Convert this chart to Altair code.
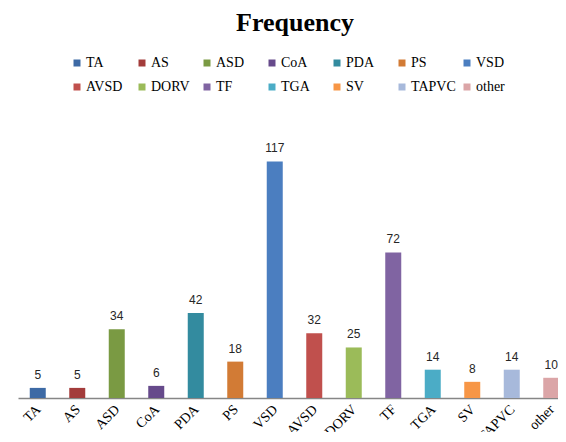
import altair as alt
import pandas as pd

categories = ["TA", "AS", "ASD", "CoA", "PDA", "PS", "VSD", "AVSD", "DORV", "TF", "TGA", "SV", "TAPVC", "other"]
values = [5, 5, 34, 6, 42, 18, 117, 32, 25, 72, 14, 8, 14, 10]
colors = ["#3d6aa5", "#a33c3b", "#7a9a43", "#664a8b", "#338b9f", "#d27b35", "#4b7ec0",
          "#c0504d", "#9bbb59", "#8064a2", "#4bacc6", "#f79646", "#a7b9db", "#dba5a7"]

SERIF = "'Liberation Serif', 'Times New Roman', serif"

df = pd.DataFrame({"cat": categories, "val": values})

xscale = alt.Scale(range=[0, 553], paddingInner=0.595, paddingOuter=0.2975)
x = alt.X("cat:N", sort=categories, title=None, scale=xscale,
          axis=alt.Axis(labelAngle=-45, labelAlign="right", labelBaseline="top",
                        labelFont=SERIF, labelFontSize=14, labelColor="#000000",
                        labelPadding=4, labelOffset=-4, ticks=False, domainColor="#868686",
                        domainWidth=1.5, labelOverlap=False))
y = alt.Y("val:Q", title=None, scale=alt.Scale(domain=[0, 140], nice=False), axis=None)

bars = alt.Chart(df).mark_bar(size=16).encode(
    x=x, y=y,
    color=alt.Color("cat:N", sort=categories,
                    scale=alt.Scale(domain=categories, range=colors),
                    legend=alt.Legend(title=None, orient="none", legendX=52, legendY=-59,
                                      direction="horizontal",
                                      columns=7, gridAlign="all", symbolType="square",
                                      symbolSize=49, symbolStrokeWidth=0, labelFont=SERIF,
                                      labelFontSize=14, labelColor="#000000", labelOffset=2,
                                      columnPadding=4, rowPadding=10, symbolOffset=0, padding=0))
)
labels = alt.Chart(df).mark_text(baseline="bottom", dy=-6, font="Liberation Sans", fontSize=12,
                                 color="#262626").encode(
    x=alt.X("cat:N", sort=categories, scale=xscale), y="val:Q", text="val:Q")

chart = (bars + labels).properties(
    width=540, height=283,
    title=alt.Title("Frequency", font=SERIF, fontSize=26, fontWeight="bold",
                    color="#000000", anchor="middle", offset=20, dx=7),
    autosize=alt.AutoSizeParams(type="none"),
    padding={"left": 10, "top": 107, "right": 0, "bottom": 34},
).configure_view(stroke=None).configure_legend(labelFont=SERIF)

chart.save("out.html", embed_options={"renderer": "svg", "actions": False})
